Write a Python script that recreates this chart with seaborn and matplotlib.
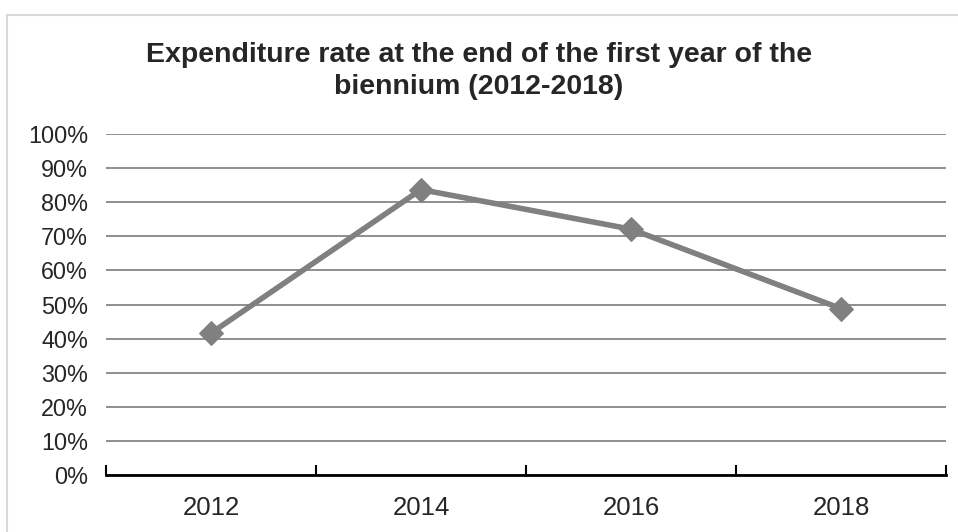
import matplotlib.pyplot as plt
import seaborn as sns
import pandas as pd
from matplotlib.patches import Rectangle
from matplotlib.ticker import PercentFormatter

years = ['2012', '2014', '2016', '2018']
rates = [41.6, 83.7, 72.1, 48.8]

df = pd.DataFrame({'pos': range(len(years)), 'rate': rates})

sns.set_style('white')
plt.rcParams['font.family'] = ['Liberation Sans', 'DejaVu Sans']

fig = plt.figure(figsize=(9.58, 5.32), dpi=100)
ax = fig.add_axes([106 / 958, 1 - 475 / 532, 840 / 958, 341 / 532])

# light frame around the chart area, like the Excel chart border
fig.patches.append(Rectangle((7 / 958, -0.05), 1.2, 1 - 15 / 532 + 0.05,
                             transform=fig.transFigure, fill=False,
                             edgecolor='#d9d9d9', linewidth=1.5))

sns.lineplot(data=df, x='pos', y='rate', ax=ax, color='#808080',
             linewidth=4, marker='D', markersize=12.5,
             markeredgecolor='#808080', markerfacecolor='#808080')

ax.set_xlim(-0.5, len(years) - 0.5)
ax.set_ylim(0, 100)
ax.set_yticks(range(0, 101, 10))
ax.yaxis.set_major_formatter(PercentFormatter(decimals=0))
ax.set_xticks(range(len(years)))
ax.set_xticklabels(years)
ax.set_xticks([i - 0.5 for i in range(len(years) + 1)], minor=True)
ax.tick_params(axis='x', which='major', bottom=True, length=0,
               labelsize=18.5, pad=15)
ax.tick_params(axis='x', which='minor', bottom=True, direction='in',
               length=7, width=1.5, color='black')
ax.tick_params(axis='y', length=0, labelsize=16.8, pad=13)
ax.set_xlabel('')
ax.set_ylabel('')

ax.grid(axis='y', color='#868686', linewidth=1.3)
ax.set_axisbelow(True)
for side in ['top', 'right', 'left']:
    ax.spines[side].set_visible(False)
ax.spines['bottom'].set_color('black')
ax.spines['bottom'].set_linewidth(2)

fig.text(0.5, 1 - 71 / 532,
         'Expenditure rate at the end of the first year of the\nbiennium (2012-2018)',
         ha='center', va='center', fontsize=20.5, fontweight='bold',
         linespacing=1.35)

fig.savefig('out.png', dpi=100)
